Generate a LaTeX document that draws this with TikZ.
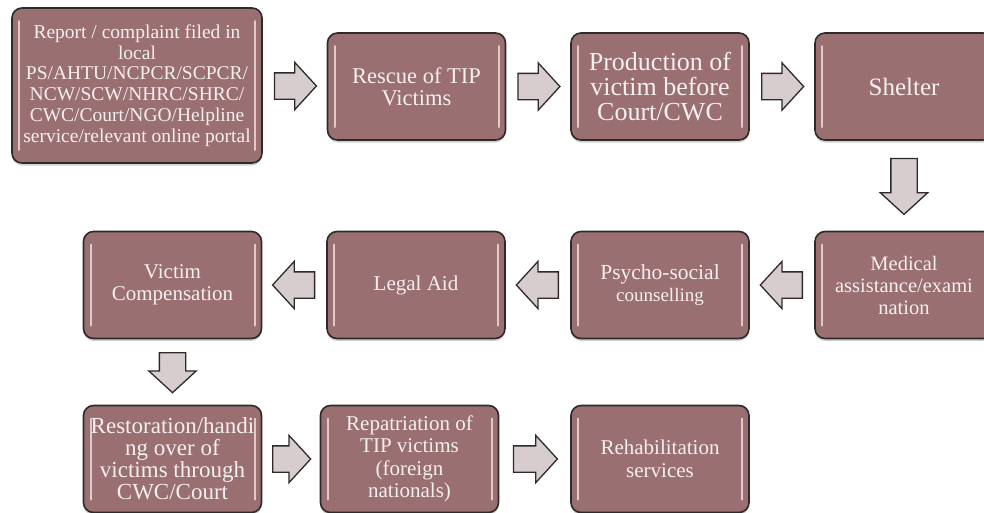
\documentclass[tikz,border=0pt]{standalone}
\usepackage{fontspec}
\setmainfont{Liberation Serif}
\usetikzlibrary{shapes.arrows,calc,shadows}
\definecolor{boxfill}{HTML}{9A6F72}
\definecolor{boxline}{HTML}{2E2A2A}
\definecolor{arrfill}{HTML}{D8CDCE}
\definecolor{glint}{HTML}{E2C9CB}
\definecolor{boxtext}{HTML}{F5EFEF}
\tikzset{
  stage/.style={draw=boxline, line width=1.6pt, fill=boxfill, rounded corners=10pt,
    minimum width=178pt, minimum height=107pt, inner sep=1pt, text=boxtext, align=center,
    font=\fontsize{21}{22.5}\selectfont,
    drop shadow={shadow xshift=0pt, shadow yshift=-2.5pt, fill=black, opacity=.18},
    path picture={\draw[glint, line width=2pt, line cap=round]
      ([xshift=7pt,yshift=-13pt]path picture bounding box.north west) -- ([xshift=7pt,yshift=13pt]path picture bounding box.south west)
      ([xshift=-7pt,yshift=-13pt]path picture bounding box.north east) -- ([xshift=-7pt,yshift=13pt]path picture bounding box.south east);}},
  flow/.style={single arrow, draw=boxline, line width=1.3pt, fill=arrfill, anchor=tail,
    minimum height=42pt, inner xsep=0pt, inner ysep=12.5pt, single arrow head extend=10.5pt,
    single arrow tip angle=95}
}
\begin{document}
\begin{tikzpicture}[x=1pt,y=-1pt]
\useasboundingbox (0,0) rectangle (984,512);
\node[stage, minimum width=250pt, minimum height=155pt, font=\fontsize{19.5}{20.8}\selectfont] (report) at (137,85.5)
  {Report / complaint filed in\\local\\PS/AHTU/NCPCR/SCPCR/\\NCW/SCW/NHRC/SHRC/\\CWC/Court/NGO/Helpline\\service/relevant online portal};
\node[stage, font=\fontsize{22.5}{22}\selectfont] (rescue) at (416.5,86.5) {Rescue of TIP\\Victims};
\node[stage, font=\fontsize{26}{25}\selectfont] (prod) at (660,86.5) {Production of\\victim before\\Court/CWC};
\node[stage, font=\fontsize{25}{25}\selectfont] (shelter) at (904,86.5) {Shelter};
\node[stage, font=\fontsize{20.5}{22}\selectfont] (medical) at (904,285) {Medical\\assistance/exami\\nation};
\node[stage, font=\fontsize{21.5}{22}\selectfont] (psycho) at (660,285) {Psycho-social\\{\fontsize{19}{22}\selectfont counselling}};
\node[stage] (legal) at (416,285) {Legal Aid};
\node[stage] (comp) at (172.5,285) {Victim\\Compensation};
\node[stage, font=\fontsize{23}{22}\selectfont] (restore) at (172.5,459) {Restoration/handi\\ng over of\\victims through\\CWC/Court};
\node[stage] (repat) at (409.5,459) {Repatriation of\\TIP victims\\(foreign\\nationals)};
\node[stage] (rehab) at (660,459) {Rehabilitation\\services};
\node[flow] (a1) at ($(report.east)!.5!(rescue.west)+(-21,0)$) {};
\node[flow] (a2) at ($(rescue.east)!.5!(prod.west)+(-21,0)$) {};
\node[flow] (a3) at ($(prod.east)!.5!(shelter.west)+(-21,0)$) {};
\node[flow, rotate=-90, minimum height=56pt] (a4) at ($(shelter.south)!.5!(medical.north)+(0,-28)$) {};
\node[flow, rotate=180] (a5) at ($(medical.west)!.5!(psycho.east)+(21,0)$) {};
\node[flow, rotate=180] (a6) at ($(psycho.west)!.5!(legal.east)+(21,0)$) {};
\node[flow, rotate=180] (a7) at ($(legal.west)!.5!(comp.east)+(21,0)$) {};
\node[flow, rotate=-90, minimum height=40pt] (a8) at ($(comp.south)!.5!(restore.north)+(0,-20)$) {};
\node[flow, minimum height=38pt] (a9) at ($(restore.east)!.5!(repat.west)+(-19,0)$) {};
\node[flow, minimum height=44pt] (a10) at ($(repat.east)!.5!(rehab.west)+(-22,0)$) {};
\end{tikzpicture}
\end{document}
